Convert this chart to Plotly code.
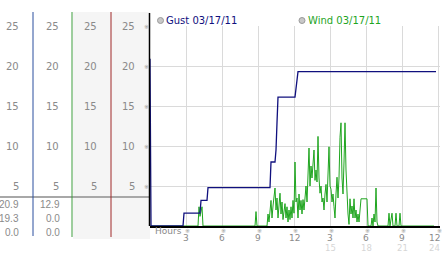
import plotly.graph_objects as go

# ---------------- data ----------------
# gust samples: 5-minute sample index, mph
gust_sample = [0, 1, 33, 34, 50, 51, 57, 58, 120, 121, 125, 126, 127, 128, 145, 146, 147, 148, 286]
gust_speed = [20.9, 0.0, 0.0, 1.6, 1.6, 3.2, 3.2, 4.8, 4.8, 8.0, 8.0, 9.5, 12.9, 16.1, 16.1, 17.0, 18.2, 19.3, 19.3]

wind_sample = [0, 48, 49, 50, 52, 53, 105, 106, 107, 117, 118, 119, 121, 122, 123, 125, 126, 127, 128,
               130, 131, 132, 133, 135, 136, 137, 138, 139, 140, 141, 142, 143, 144, 145, 146, 147, 148,
               149, 150, 151, 152, 153, 154, 155, 156, 157, 158, 159, 160, 161, 162, 163, 164, 165, 166,
               167, 168, 169, 170, 171, 172, 173, 174, 175, 176, 177, 178, 179, 180, 181, 182, 183, 184,
               185, 186, 187, 188, 189, 190, 191, 192, 193, 194, 195, 196, 197, 198, 199, 200, 201, 202,
               203, 204, 205, 206, 207, 208, 209, 211, 217, 218, 221, 222, 223, 224, 225, 226, 227, 228,
               238, 239, 240, 242, 243, 245, 246, 247, 249, 250, 251, 284]
wind_speed = [0, 0, 2.4, 1.2, 2.4, 0, 0, 1.8, 0, 0, 1.5, 0.5, 3.2, 1.0, 2.5, 4.75, 2.0, 3.5, 1.0,
              4.1, 1.5, 3.0, 0.8, 2.8, 1.0, 2.4, 0.5, 2.0, 0.8, 2.4, 1.0, 3.2, 1.6, 8.0, 3.0, 3.5, 1.0,
              4.0, 2.0, 3.2, 1.5, 3.3, 2.0, 3.3, 5.0, 3.0, 7.0, 9.75, 5.0, 7.5, 6.0, 8.0, 9.5, 5.7, 7.0,
              5.5, 11.2, 6.0, 4.1, 5.0, 3.0, 3.5, 2.0, 4.0, 5.2, 3.0, 6.0, 9.9, 5.0, 4.6, 3.0, 4.0, 2.4,
              1.0, 4.0, 6.1, 3.5, 6.0, 11.1, 12.9, 6.0, 4.0, 8.0, 12.9, 7.0, 3.5, 1.5, 0.2, 3.4, 1.5, 2.5,
              1.0, 3.4, 1.0, 2.0, 0.5, 1.5, 0.5, 3.4, 3.4, 0, 0, 1.0, 0, 1.5, 0.5, 4.75, 0.5, 0,
              0, 1.6, 0, 1.6, 0, 0, 1.6, 0, 0, 1.6, 0, 0]

y_ticks = [5, 10, 15, 20, 25]
x_ticks = [3, 6, 9, 12, 15, 18, 21, 24]
x_labels = ["3", "6", "9", "12", "3", "6", "9", "12"]
x_labels_24h = ["", "", "", "", "15", "18", "21", "24"]

gust_stats = ["20.9", "19.3", "0.0"]   # max, current, min
wind_stats = ["12.9", "0.0", "0.0"]

legend_names = ["Gust 03/17/11", "Wind 03/17/11"]

# ---------------- layout geometry ----------------
W, H = 442, 253
L, R, T, B = 150, 2, 26, 27
PW, PH = W - L - R, H - T - B
X_MAX = PW / 12.0  # 12 px per hour


def px(x):
    return (x - L) / PW


def py(y):
    return (H - B - y) / PH


NAVY = "#10107e"
GREEN = "#1fa51f"
GRAY_TXT = "#8a8a8a"

fig = go.Figure()
fig.add_trace(go.Scatter(x=[s / 12 for s in wind_sample], y=wind_speed, mode="lines",
                         line=dict(color=GREEN, width=1), hoverinfo="skip"))
fig.add_trace(go.Scatter(x=[s / 12 for s in gust_sample], y=gust_speed, mode="lines",
                         line=dict(color=NAVY, width=1.3), hoverinfo="skip"))

shapes = []
# gray background of the two right columns
shapes.append(dict(type="rect", xref="paper", yref="paper", x0=px(73), x1=px(150), y0=py(239), y1=py(12),
                   fillcolor="#f5f5f5", line=dict(width=0), layer="below"))
# separator
shapes.append(dict(type="line", xref="paper", yref="paper", x0=px(0), x1=px(149), y0=py(197), y1=py(197),
                   line=dict(color="#a8a8a8", width=2)))
# column lines
for xc, col, ybot in [(33, "#2a4e9e", 236), (72, "#3c9c3c", 237), (111, "#a02828", 237)]:
    shapes.append(dict(type="line", xref="paper", yref="paper", x0=px(xc), x1=px(xc), y0=py(12), y1=py(ybot),
                       line=dict(color=col, width=1)))
shapes.append(dict(type="line", xref="paper", yref="paper", x0=px(149.5), x1=px(149.5), y0=py(13), y1=py(226),
                   line=dict(color="black", width=1.5)))
# legend circles
for cx in [160.5, 302]:
    shapes.append(dict(type="circle", xref="paper", yref="paper", x0=px(cx - 3), x1=px(cx + 3),
                       y0=py(20.5 + 3), y1=py(20.5 - 3), fillcolor="#c8c8c8", line=dict(color="#9a9a9a", width=1)))

ann = []
FONT = "DejaVu Sans"
# y labels in four columns
for v in y_ticks:
    for xr in [21, 61, 99, 137]:
        ann.append(dict(x=px(xr), y=v, xref="paper", yref="y", text=str(v), showarrow=False,
                        xanchor="right", yanchor="middle", font=dict(family=FONT, size=10, color=GRAY_TXT)))
    ann.append(dict(x=px(146), y=v, xref="paper", yref="y", text="※", showarrow=False,
                    xanchor="center", yanchor="middle", font=dict(family=FONT, size=6, color="#999999")))
# stats
for i, (g, w) in enumerate(zip(gust_stats, wind_stats)):
    yy = py(204 + 14 * i)
    ann.append(dict(x=px(21), y=yy, xref="paper", yref="paper", text=g, showarrow=False, xanchor="right",
                    yanchor="middle", font=dict(family="Liberation Sans", size=10, color=GRAY_TXT)))
    ann.append(dict(x=px(62), y=yy, xref="paper", yref="paper", text=w, showarrow=False, xanchor="right",
                    yanchor="middle", font=dict(family="Liberation Sans", size=10, color=GRAY_TXT)))
# x axis labels
ann.append(dict(x=px(153), y=py(231), xref="paper", yref="paper", text="Hours", showarrow=False,
                xanchor="left", yanchor="middle", font=dict(family=FONT, size=9, color=GRAY_TXT)))
for h, lab, lab24 in zip(x_ticks, x_labels, x_labels_24h):
    last = h == x_ticks[-1]
    xa = "right" if last else "center"
    xx = px(442) if last else h / X_MAX
    ann.append(dict(x=(h / X_MAX) + (1 / PW), y=py(230.5), xref="paper", yref="paper", text="※", showarrow=False,
                    xanchor="center", yanchor="middle", font=dict(family=FONT, size=6, color="#999999")))
    ann.append(dict(x=xx, y=py(238), xref="paper", yref="paper", text=lab, showarrow=False,
                    xanchor=xa, yanchor="middle", font=dict(family=FONT, size=9, color=GRAY_TXT)))
    if lab24:
        ann.append(dict(x=xx, y=py(248), xref="paper", yref="paper", text=lab24, showarrow=False,
                        xanchor=xa, yanchor="middle", font=dict(family=FONT, size=8.5, color="#d6d6d6")))
# legend texts
for cx, name, col in [(164, legend_names[0], NAVY), (306, legend_names[1], GREEN)]:
    ann.append(dict(x=px(cx), y=py(20.5), xref="paper", yref="paper", text=name, showarrow=False,
                    xanchor="left", yanchor="middle", font=dict(family=FONT, size=10, color=col)))

fig.update_layout(
    width=W, height=H, margin=dict(l=L, r=R, t=T, b=B, pad=0),
    paper_bgcolor="white", plot_bgcolor="white", showlegend=False,
    shapes=shapes, annotations=ann,
    xaxis=dict(range=[0, X_MAX], tickvals=x_ticks, showticklabels=False, ticks="", showgrid=True,
               gridcolor="#dadada", gridwidth=1, zeroline=False, showline=True, linecolor="black",
               linewidth=1.5, fixedrange=True),
    yaxis=dict(range=[0, 25], tickvals=y_ticks, showticklabels=False, ticks="", showgrid=True,
               gridcolor="#dadada", gridwidth=1, zeroline=False, showline=False, fixedrange=True),
)
fig.write_html("out.html", config={"displayModeBar": False})
